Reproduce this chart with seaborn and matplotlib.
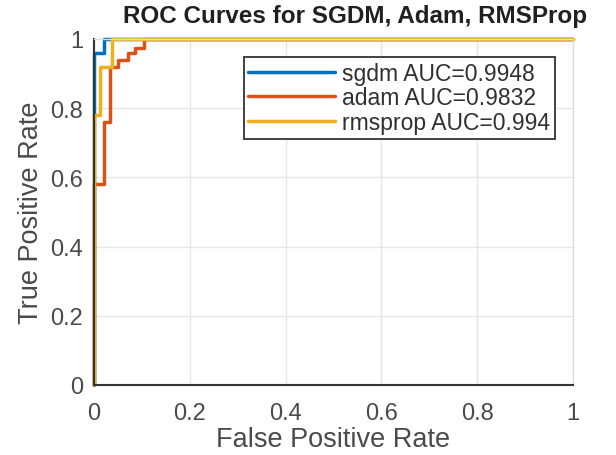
import matplotlib
matplotlib.use("Agg")
import matplotlib.pyplot as plt
import seaborn as sns
import pandas as pd

# ROC curve points
sgdm_fpr = [0, 0, 0.02, 0.02, 1]
sgdm_tpr = [0, 0.96, 0.96, 1, 1]
adam_fpr = [0, 0, 0.02, 0.02, 0.033, 0.033, 0.05, 0.05, 0.07, 0.07, 0.085, 0.085, 0.105, 0.105, 1]
adam_tpr = [0, 0.58, 0.58, 0.76, 0.76, 0.92, 0.92, 0.94, 0.94, 0.96, 0.96, 0.975, 0.975, 1, 1]
rms_fpr = [0, 0, 0.012, 0.012, 0.037, 0.037, 1]
rms_tpr = [0, 0.78, 0.78, 0.92, 0.92, 1, 1]
labels = ["sgdm AUC=0.9948", "adam AUC=0.9832", "rmsprop AUC=0.994"]
colors = ["#0072BD", "#D95319", "#EDB120"]
ticks = [0, 0.2, 0.4, 0.6, 0.8, 1]
ticklabels = ["0", "0.2", "0.4", "0.6", "0.8", "1"]

sns.set_style("white")
plt.rcParams['font.family'] = ['Liberation Sans', 'DejaVu Sans']

fig = plt.figure(figsize=(6.16, 4.56), dpi=100)
ax = fig.add_axes([94/616, 1-386/456, (573-94)/616, (386-40)/456])

curves = [(sgdm_fpr, sgdm_tpr), (adam_fpr, adam_tpr), (rms_fpr, rms_tpr)]
for (fx, ty), lab, col in zip(curves, labels, colors):
    df = pd.DataFrame({"fpr": fx, "tpr": ty})
    sns.lineplot(data=df, x="fpr", y="tpr", sort=False, estimator=None,
                 color=col, linewidth=2.5, label=lab, ax=ax, clip_on=False)

ax.set_xlim(0, 1)
ax.set_ylim(0, 1)
ax.set_xticks(ticks)
ax.set_xticklabels(ticklabels)
ax.set_yticks(ticks)
ax.set_yticklabels(ticklabels)
ax.grid(True, color="#e6e6e6", linewidth=1)
ax.set_axisbelow(True)
for s in ["top", "right"]:
    ax.spines[s].set_color("#dddddd")
    ax.spines[s].set_linewidth(1)
for s in ["bottom", "left"]:
    ax.spines[s].set_color("#333333")
    ax.spines[s].set_linewidth(1.5)
ax.tick_params(axis="both", labelsize=17, labelcolor="#4a4a4a", color="#333333",
               direction="in", length=3, width=1)
ax.tick_params(axis="x", pad=12)
ax.tick_params(axis="y", pad=8)
ax.set_xlabel("False Positive Rate", fontsize=19.5, color="#4a4a4a", labelpad=1.5)
ax.set_ylabel("True Positive Rate", fontsize=19.5, color="#4a4a4a", labelpad=4)
fig.text(355/616, 1-16/456, "ROC Curves for SGDM, Adam, RMSProp", fontsize=17.5,
         fontweight="bold", color="#202020", ha="center", va="center")

leg = ax.legend(loc="upper right", bbox_to_anchor=(0.962, 0.948), fontsize=16.5,
                frameon=True, fancybox=False, edgecolor="#333333",
                handlelength=3.8, handletextpad=0.3, borderpad=0.2,
                labelspacing=0.08, borderaxespad=0, framealpha=1)
leg.get_frame().set_linewidth(1.3)
for t in leg.get_texts():
    t.set_color("#303030")

fig.savefig("out.png", dpi=100)
